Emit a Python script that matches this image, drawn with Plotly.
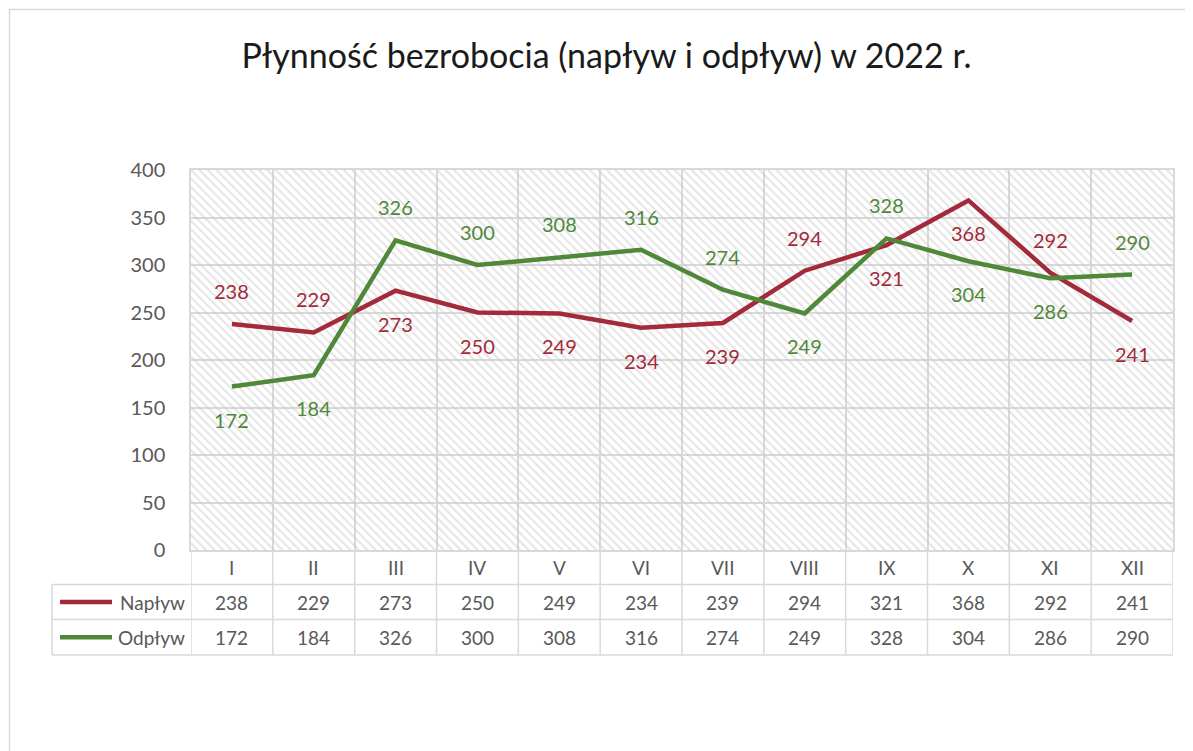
import plotly.graph_objects as go

# ---- data ----
months = ["I", "II", "III", "IV", "V", "VI", "VII", "VIII", "IX", "X", "XI", "XII"]
naplyw = [238, 229, 273, 250, 249, 234, 239, 294, 321, 368, 292, 241]
odplyw = [172, 184, 326, 300, 308, 316, 274, 249, 328, 304, 286, 290]
series_names = ["Napływ", "Odpływ"]
# label side: +1 above the point, -1 below
naplyw_side = [1, 1, -1, -1, -1, -1, -1, 1, -1, -1, 1, -1]
odplyw_side = [-1, -1, 1, 1, 1, 1, 1, -1, 1, -1, -1, 1]
title_text = "Płynność bezrobocia (napływ i odpływ) w 2022 r."

# ---- styling ----
OFF = 8  # page body margin
PAGE_W, PAGE_H = 1193, 751
W, H = PAGE_W - OFF, PAGE_H - OFF
PL, PR, PT, PB = 191, 1173, 170, 550  # plot area in page pixels
L, T = PL - OFF, PT - OFF
R = W - (PR - OFF)
B = H - (PB - OFF)
plot_w = PR - PL
plot_h = PB - PT
RED = "#A32A3A"
GREEN = "#50883A"
GRID = "#D9D9D9"
TXT = "#595959"
FONT = "Lato, 'Open Sans', sans-serif"

def py(px):  # page pixel y -> paper y
    return (PB - px) / plot_h

def pxx(px):  # page pixel x -> paper x
    return (px - PL) / plot_w

x = list(range(len(months)))
ymax = 400

fig = go.Figure()

# hatched plot-area background
fig.add_trace(go.Scatter(
    x=[-0.5, len(months) - 0.5, len(months) - 0.5, -0.5, -0.5],
    y=[0, 0, ymax, ymax, 0],
    fill="toself", mode="none",
    fillcolor="rgba(0,0,0,0)",
    fillpattern=dict(shape="\\", fgcolor="#C9C9C9", bgcolor="rgba(0,0,0,0)",
                     size=6, solidity=0.33),
    hoverinfo="skip", showlegend=False,
))

for name, vals, col in [(series_names[0], naplyw, RED), (series_names[1], odplyw, GREEN)]:
    fig.add_trace(go.Scatter(
        x=x, y=vals, mode="lines", name=name,
        line=dict(color=col, width=4.5), showlegend=False,
    ))

annotations = []
# data labels
for vals, sides, col in [(naplyw, naplyw_side, RED), (odplyw, odplyw_side, GREEN)]:
    for i, (v, s) in enumerate(zip(vals, sides)):
        annotations.append(dict(
            x=i, y=v, xref="x", yref="y", text=str(v), showarrow=False,
            xanchor="center", yanchor="middle",
            yshift=33 * s, font=dict(family=FONT, size=20, color=col),
        ))

# data table rows
row_edges_px = [550, 584.5, 619.5, 655]
row_centers = [(row_edges_px[k] + row_edges_px[k + 1]) / 2 for k in range(3)]
tfont = dict(family=FONT, size=19, color=TXT)
for i, m in enumerate(months):
    for k, txt in enumerate([m, str(naplyw[i]), str(odplyw[i])]):
        annotations.append(dict(x=i, y=py(row_centers[k]), xref="x", yref="paper",
                                text=txt, showarrow=False,
                                xanchor="center", yanchor="middle", font=tfont))

shapes = []
# legend keys inside the table
for k, (name, col) in enumerate([(series_names[0], RED), (series_names[1], GREEN)]):
    yc = py(row_centers[k + 1])
    shapes.append(dict(type="line", xref="paper", yref="paper",
                       x0=pxx(60), x1=pxx(112), y0=yc, y1=yc,
                       line=dict(color=col, width=4.5)))
    annotations.append(dict(x=pxx(187), y=yc, xref="paper", yref="paper",
                            text=name, showarrow=False, xanchor="right",
                            yanchor="middle", font=tfont))

# table vertical lines at category boundaries
for i in range(len(months) + 1):
    shapes.append(dict(type="line", xref="x", yref="paper",
                       x0=i - 0.5, x1=i - 0.5, y0=py(row_edges_px[-1]), y1=0,
                       line=dict(color=GRID, width=1.5), layer="below"))
# table left edge (legend column)
shapes.append(dict(type="line", xref="paper", yref="paper",
                   x0=pxx(52), x1=pxx(52), y0=py(row_edges_px[-1]), y1=py(row_edges_px[1]),
                   line=dict(color=GRID, width=1.5)))
# table horizontal lines
for ypx in row_edges_px[1:]:
    shapes.append(dict(type="line", xref="paper", yref="paper",
                       x0=pxx(52), x1=1, y0=py(ypx), y1=py(ypx),
                       line=dict(color=GRID, width=1.5)))
# outer chart border
shapes.append(dict(type="rect", xref="paper", yref="paper",
                   x0=pxx(9.5), x1=1.2, y0=-1.0, y1=py(9.5),
                   line=dict(color=GRID, width=1.5), layer="below"))

fig.update_layout(
    width=W, height=H,
    margin=dict(l=L, r=R, t=T, b=B, autoexpand=False),
    paper_bgcolor="white", plot_bgcolor="white",
    title=dict(text=title_text, x=(606.5 - OFF) / W, xref="container", xanchor="center",
               y=1 - (56 - OFF) / H, yref="container", yanchor="middle",
               font=dict(family=FONT, size=34, color="#1A1A1A")),
    xaxis=dict(range=[-0.5, len(months) - 0.5], tickmode="linear", tick0=0.5, dtick=1,
               showticklabels=False, showgrid=True, gridcolor=GRID, gridwidth=1.5,
               zeroline=False, showline=True, mirror=True, linecolor=GRID, linewidth=1.5,
               fixedrange=True),
    yaxis=dict(range=[0, ymax], dtick=50, showgrid=True, gridcolor=GRID, gridwidth=1.5,
               zeroline=True, zerolinecolor=GRID, zerolinewidth=1.5,
               showline=True, mirror=True, linecolor=GRID, linewidth=1.5,
               ticks="", ticklabelstandoff=20,
               tickfont=dict(family=FONT, size=20, color=TXT), fixedrange=True),
    annotations=annotations,
    shapes=shapes,
    showlegend=False,
)

fig.write_html("out.html")
